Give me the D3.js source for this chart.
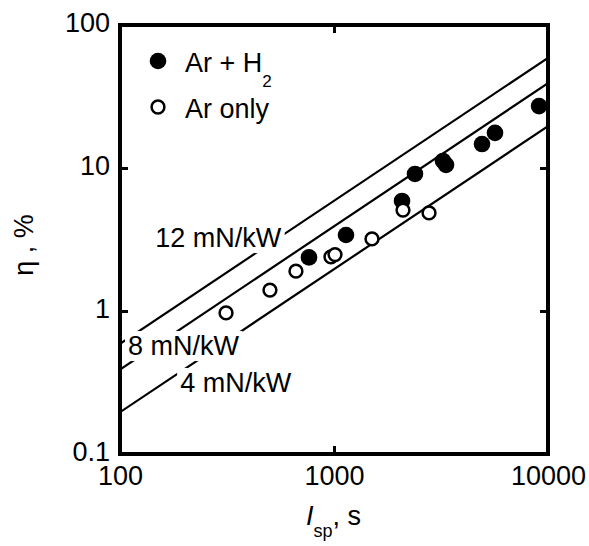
<!DOCTYPE html>
<html lang="en">
<head>
    <meta charset="UTF-8">
    <title>Efficiency vs specific impulse</title>
    <script src="https://d3js.org/d3.v7.min.js"></script>
    <style>
        body { margin: 0; background: #fff; }
        svg text { font-family: "Liberation Sans", Arial, sans-serif; fill: #000; }
        .axis text { font-size: 27px; }
        .axis path { display: none; }
    </style>
</head>
<body>
    <svg width="589" height="546"></svg>

    <script>
        // Ar + H2 (filled)
        const h2Isp = [764, 1138, 2079, 2390, 3231, 3337, 4916, 5654, 9081];
        const h2Eta = [2.37, 3.40, 5.88, 9.08, 11.2, 10.5, 14.7, 17.6, 27.1];
        // Ar only (open)
        const arIsp = [313, 502, 664, 968, 1011, 1505, 2101, 2780];
        const arEta = [0.97, 1.40, 1.90, 2.39, 2.48, 3.19, 5.08, 4.85];

        // constant thrust/power lines, eta at Isp = 100 and 10000
        const lineNames = ["12 mN/kW", "8 mN/kW", "4 mN/kW"];
        const lineIsp = [100, 10000];
        const lineEta = [[0.59, 58.9], [0.39, 39.2], [0.196, 19.6]];

        const xTicks = [100, 1000, 10000];
        const yTicks = [0.1, 1, 10, 100];

        const margin = { top: 25, left: 120 };
        const width = 428;
        const height = 429;

        const svg = d3.select("svg")
            .append("g")
            .attr("transform", `translate(${margin.left}, ${margin.top})`);

        const x = d3.scaleLog().domain([100, 10000]).range([0, width]);
        const y = d3.scaleLog().domain([0.1, 100]).range([height, 0]);

        svg.append("clipPath").attr("id", "plot")
            .append("rect").attr("width", width).attr("height", height);

        // lines
        const line = d3.line().x(d => x(d[0])).y(d => y(d[1]));
        svg.append("g").attr("clip-path", "url(#plot)")
            .selectAll("path")
            .data(lineEta)
            .enter().append("path")
            .attr("d", d => line(lineIsp.map((v, i) => [v, d[i]])))
            .attr("fill", "none")
            .attr("stroke", "#000")
            .attr("stroke-width", 2.2);

        // line labels with white boxes (Isp, eta of text start / baseline)
        const labelAt = [[146, 2.80], [109, 0.492], [191, 0.2715]];
        const labels = svg.append("g");
        lineNames.forEach((name, i) => {
            const g = labels.append("g");
            const t = g.append("text")
                .attr("x", x(labelAt[i][0]))
                .attr("y", y(labelAt[i][1]))
                .attr("font-size", "27px")
                .text(name);
            const b = t.node().getBBox();
            g.insert("rect", "text")
                .attr("x", b.x - 3).attr("y", b.y)
                .attr("width", b.width + 6).attr("height", b.height)
                .attr("fill", "#fff");
        });

        // points
        svg.append("g").selectAll("circle")
            .data(h2Isp)
            .enter().append("circle")
            .attr("cx", d => x(d))
            .attr("cy", (d, i) => y(h2Eta[i]))
            .attr("r", 8.3)
            .attr("fill", "#000");

        svg.append("g").selectAll("circle")
            .data(arIsp)
            .enter().append("circle")
            .attr("cx", d => x(d))
            .attr("cy", (d, i) => y(arEta[i]))
            .attr("r", 6.4)
            .attr("fill", "#fff")
            .attr("stroke", "#000")
            .attr("stroke-width", 2.5);

        // axes: inward ticks
        svg.append("g").attr("class", "axis")
            .attr("transform", `translate(0, ${height})`)
            .call(d3.axisBottom(x).tickValues(xTicks).tickFormat(d3.format("d"))
                .tickSize(-8).tickPadding(12))
            .selectAll("line").attr("stroke-width", 3);
        svg.append("g").attr("class", "axis")
            .call(d3.axisTop(x).tickValues(xTicks).tickFormat("").tickSize(-8))
            .selectAll("line").attr("stroke-width", 3);
        const yAxis = svg.append("g").attr("class", "axis")
            .call(d3.axisLeft(y).tickValues(yTicks).tickFormat(d => d3.format("")(d))
                .tickSize(-8).tickPadding(10));
        yAxis.selectAll("line").attr("stroke-width", 3);
        yAxis.selectAll("text").attr("dy", "0.25em");
        svg.append("g").attr("class", "axis")
            .attr("transform", `translate(${width}, 0)`)
            .call(d3.axisRight(y).tickValues(yTicks).tickFormat("").tickSize(-8))
            .selectAll("line").attr("stroke-width", 3);

        // frame
        svg.append("rect")
            .attr("width", width).attr("height", height)
            .attr("fill", "none")
            .attr("stroke", "#000")
            .attr("stroke-width", 4);

        // legend
        svg.append("circle").attr("cx", 38).attr("cy", 36).attr("r", 8.3).attr("fill", "#000");
        const l1 = svg.append("text").attr("x", 65).attr("y", 47).attr("font-size", "27px");
        l1.append("tspan").text("Ar + H");
        l1.append("tspan").attr("font-size", "17px").attr("dy", 15).text("2");
        svg.append("circle").attr("cx", 38).attr("cy", 82).attr("r", 6.4)
            .attr("fill", "#fff").attr("stroke", "#000").attr("stroke-width", 2.5);
        svg.append("text").attr("x", 65).attr("y", 93).attr("font-size", "27px").text("Ar only");

        // axis titles
        const xt = svg.append("text")
            .attr("x", 186).attr("y", height + 71)
            .attr("font-size", "27px");
        xt.append("tspan").attr("font-style", "italic").text("I");
        xt.append("tspan").attr("font-size", "18px").attr("dy", 12).text("sp");
        xt.append("tspan").attr("dy", -12).text(", s");

        svg.append("text")
            .attr("transform", `translate(${33 - margin.left}, ${245 - margin.top}) rotate(-90)`)
            .attr("text-anchor", "middle")
            .attr("font-size", "27px")
            .text("η , %");
    </script>
</body>
</html>
